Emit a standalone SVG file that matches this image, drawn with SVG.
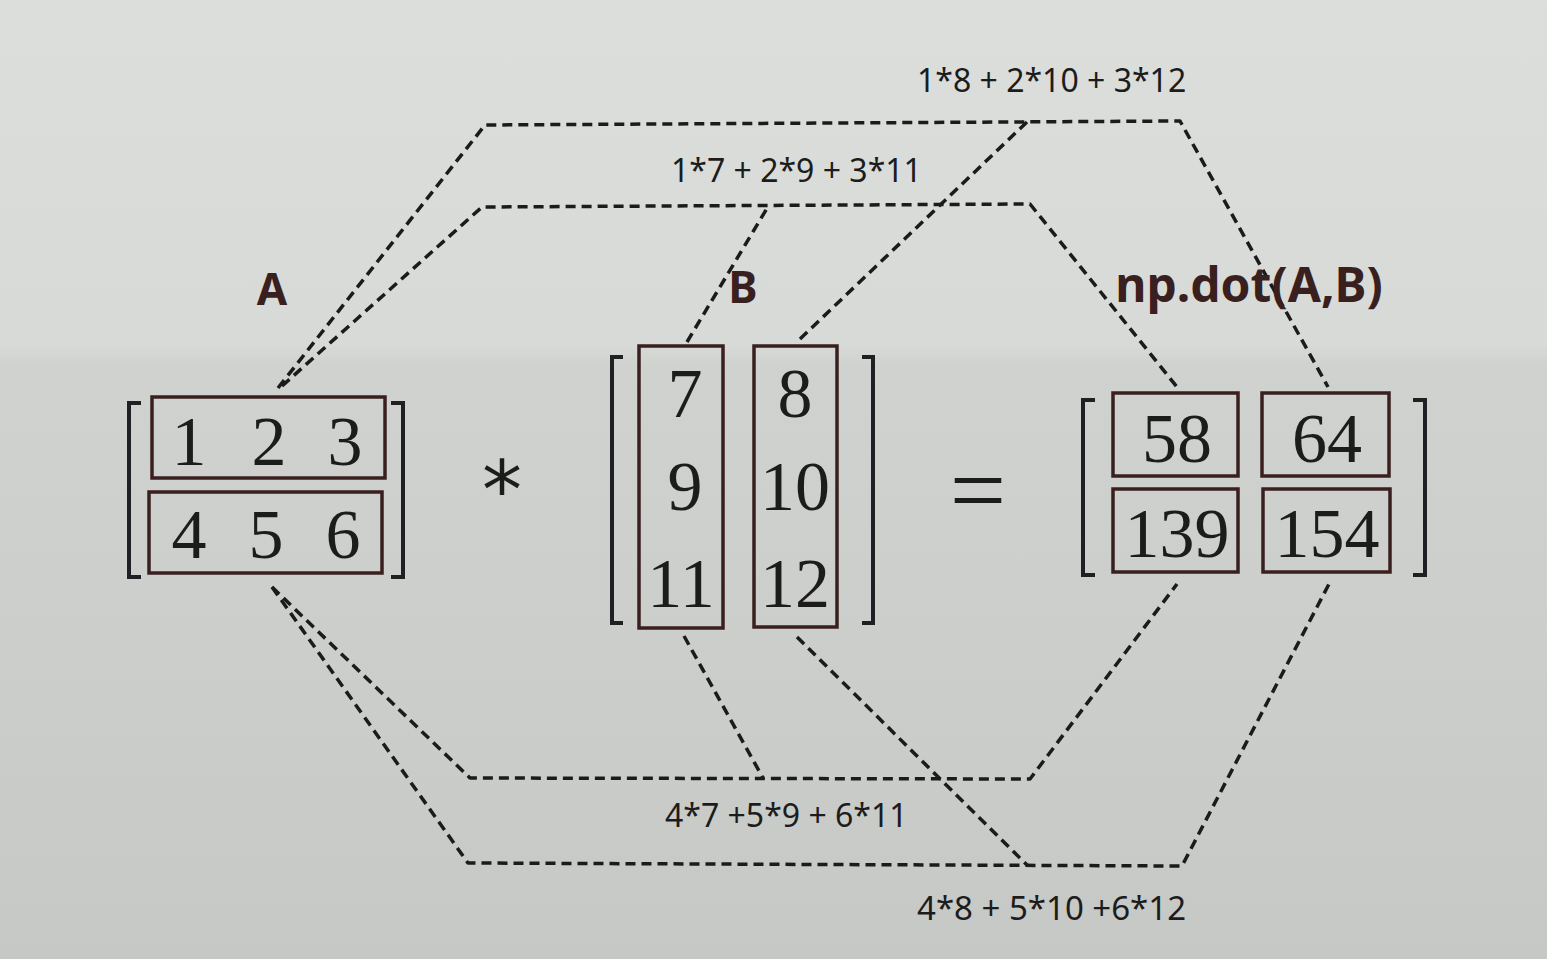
<svg xmlns="http://www.w3.org/2000/svg" width="1547" height="959" viewBox="0 0 1547 959">
<defs>
<linearGradient id="bg" x1="0" y1="0" x2="0" y2="1">
<stop offset="0" stop-color="#dcdedb"/>
<stop offset="0.36" stop-color="#d8dad7"/>
<stop offset="0.38" stop-color="#d0d2cf"/>
<stop offset="0.75" stop-color="#cbcdca"/>
<stop offset="1" stop-color="#c6c8c5"/>
</linearGradient>
<style>
.dash{fill:none;stroke:#1b1b1b;stroke-width:3.5;stroke-dasharray:10 6;stroke-linejoin:round;stroke-linecap:butt}
.box{fill:none;stroke:#3a1f1f;stroke-width:3.5}
.br{fill:none;stroke:#1f1f24;stroke-width:4}
.num{font-family:"Liberation Serif",serif;font-size:70px;fill:#1c1c1c;text-anchor:middle}
.lbl{font-family:"Noto Sans","Open Sans",sans-serif;font-size:32px;fill:#1c1c1c}
.ttl{font-family:"Noto Sans","Open Sans",sans-serif;font-weight:bold;font-size:44px;fill:#3a1f1f}
</style>
</defs>
<rect width="1547" height="959" fill="url(#bg)"/>

<g id="connectors">
<path class="dash" d="M278,388 L485,125 L1180,121 L1328,387"/>
<path class="dash" d="M800,339 L1028,121"/>
<path class="dash" d="M282,386 L482,207 L1030,204 L1177,387"/>
<path class="dash" d="M687,342 L769,205"/>
<path class="dash" d="M272,587 L470,778 L1030,779 L1177,584"/>
<path class="dash" d="M684,636 L763,778"/>
<path class="dash" d="M272,587 L468,863 L1182,866 L1329,584"/>
<path class="dash" d="M797,637 L1028,866"/>
</g>

<g id="labels">
<text class="lbl" x="917" y="92">1*8 + 2*10 + 3*12</text>
<text class="lbl" x="671" y="182">1*7 + 2*9 + 3*11</text>
<text class="lbl" x="665" y="827">4*7 +5*9 + 6*11</text>
<text class="lbl" x="917" y="920" style="font-size:33px">4*8 + 5*10 +6*12</text>
</g>

<g id="matrixA">
<text class="ttl" x="272" y="305" text-anchor="middle">A</text>
<path class="br" d="M141,403 H129 V577 H141"/>
<path class="br" d="M391,403 H403 V577 H391"/>
<g id="A-row1">
<rect class="box" x="152" y="397" width="233" height="81"/>
<text class="num" x="189" y="465">1</text>
<text class="num" x="269" y="465">2</text>
<text class="num" x="345" y="465">3</text>
</g>
<g id="A-row2">
<rect class="box" x="149" y="492" width="233" height="81"/>
<text class="num" x="189" y="558">4</text>
<text class="num" x="266" y="558">5</text>
<text class="num" x="343" y="558">6</text>
</g>
</g>

<g id="times">
<text x="502" y="518" font-family="DejaVu Sans,sans-serif" font-size="80" fill="#1c1c1c" text-anchor="middle">*</text>
</g>

<g id="matrixB">
<text class="ttl" x="743" y="303" text-anchor="middle">B</text>
<path class="br" d="M623,357 H612 V623 H623"/>
<path class="br" d="M862,357 H873 V623 H862"/>
<g id="B-col1">
<rect class="box" x="639" y="346" width="84" height="282"/>
<text class="num" x="685" y="417">7</text>
<text class="num" x="685" y="510">9</text>
<text class="num" x="681" y="607">11</text>
</g>
<g id="B-col2">
<rect class="box" x="754" y="346" width="83" height="281"/>
<text class="num" x="795" y="417">8</text>
<text class="num" x="795" y="510">10</text>
<text class="num" x="795" y="607">12</text>
</g>
</g>

<g id="equals">
<text x="978" y="524" font-family="Liberation Serif,serif" font-size="100" fill="#1c1c1c" text-anchor="middle">=</text>
</g>

<g id="result">
<text class="ttl" x="1249" y="302" text-anchor="middle" style="font-size:48px">np.dot(A,B)</text>
<path class="br" d="M1095,400 H1083 V575 H1095"/>
<path class="br" d="M1413,400 H1425 V575 H1413"/>
<g id="R-58">
<rect class="box" x="1113" y="393" width="125" height="83"/>
<text class="num" x="1177" y="462">58</text>
</g>
<g id="R-64">
<rect class="box" x="1262" y="393" width="127" height="83"/>
<text class="num" x="1327" y="462">64</text>
</g>
<g id="R-139">
<rect class="box" x="1113" y="489" width="125" height="83"/>
<text class="num" x="1177" y="557">139</text>
</g>
<g id="R-154">
<rect class="box" x="1263" y="489" width="127" height="83"/>
<text class="num" x="1327" y="557">154</text>
</g>
</g>
</svg>
